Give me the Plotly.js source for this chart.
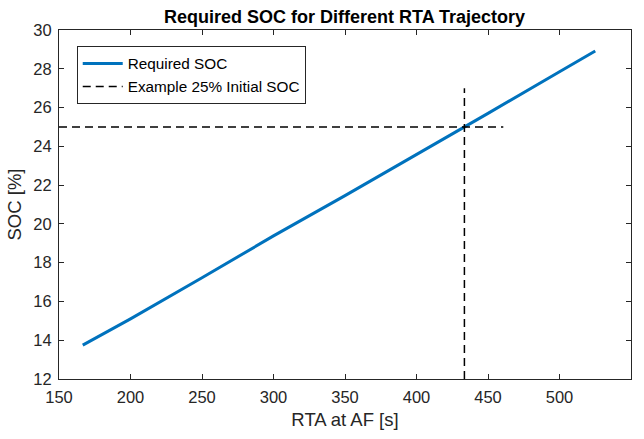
<!DOCTYPE html>
<html>
<head>
<meta charset="utf-8">
<script src="https://cdn.plot.ly/plotly-3.0.1.min.js"></script>
<style>html,body{margin:0;padding:0;background:#fff;}#chart{width:644px;height:439px;}</style>
</head>
<body>
<div id="chart"></div>
<script>
// Required SOC curve
var rta = [166.6, 200, 250, 300, 350, 400, 433.5, 450, 500, 525];
var soc = [13.75, 15.1, 17.22, 19.38, 21.46, 23.57, 25.0, 25.7, 27.85, 28.92];
// Example 25% initial SOC guide lines
var hLineX = [150, 460.7];
var hLineY = [25, 25];
var vLineX = [433.5, 433.5];
var vLineY = [12, 27.0];

var font = "Liberation Sans, Arial, Helvetica, sans-serif";
var axisColor = "#262626";

var traces = [
  {x: rta, y: soc, mode: "lines", name: "Required SOC",
   line: {color: "#0072BD", width: 3}},
  {x: hLineX, y: hLineY, mode: "lines", name: "Example 25% Initial SOC",
   line: {color: "#000000", width: 1.5, dash: "8px,5px"}},
  {x: vLineX, y: vLineY, mode: "lines", showlegend: false,
   line: {color: "#000000", width: 1.5, dash: "8px,5px"}}
];

var axisCommon = {
  showline: true, mirror: "allticks", linecolor: axisColor, linewidth: 1,
  ticks: "inside", ticklen: 5, tickcolor: axisColor, tickwidth: 1,
  showgrid: false, zeroline: false,
  tickfont: {family: font, size: 16.5, color: axisColor}
};

var layout = {
  width: 644, height: 439,
  paper_bgcolor: "#fff", plot_bgcolor: "#fff",
  margin: {l: 59, r: 13, t: 30, b: 60},
  title: {text: "<b>Required SOC for Different RTA Trajectory</b>",
          font: {family: font, size: 18, color: "#000"},
          x: 0.535, xanchor: "center", y: 0.962, yanchor: "middle"},
  xaxis: Object.assign({}, axisCommon, {
    range: [150, 550], tickvals: [150,200,250,300,350,400,450,500,550],
    ticklabelstandoff: 3,
    title: {text: "RTA at AF [s]", font: {family: font, size: 18.5, color: axisColor}, standoff: 8}
  }),
  yaxis: Object.assign({}, axisCommon, {
    range: [12, 30], tickvals: [12,14,16,18,20,22,24,26,28,30],
    ticklabelstandoff: 3,
    title: {text: "SOC [%]", font: {family: font, size: 18.5, color: axisColor}, standoff: 6}
  }),
  legend: {x: 0.031, y: 0.954, xanchor: "left", yanchor: "top",
           bgcolor: "#fff", bordercolor: axisColor, borderwidth: 1,
           font: {family: font, size: 15.3, color: "#000"},
           itemwidth: 40, tracegroupgap: 0},
  showlegend: true
};

Plotly.newPlot("chart", traces, layout, {displayModeBar: false, staticPlot: true});
</script>
</body>
</html>
